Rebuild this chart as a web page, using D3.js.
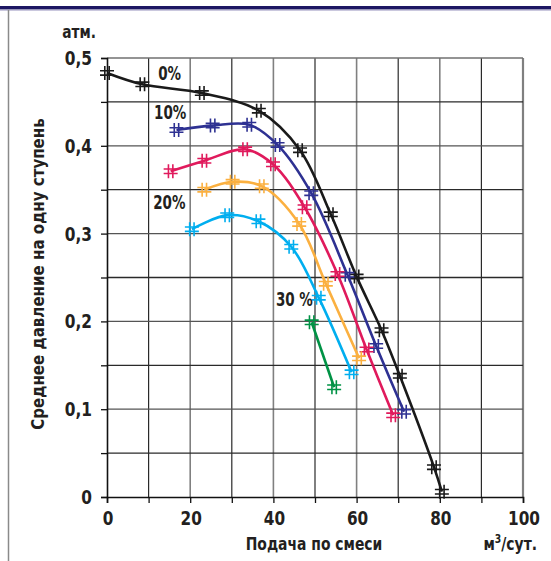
<!DOCTYPE html>
<html>
<head>
<meta charset="utf-8">
<script src="https://cdn.jsdelivr.net/npm/d3@7"></script>
<style>
  body { margin: 0; background: #fff; }
  text { font-family: "DejaVu Sans Condensed", "Liberation Sans", sans-serif; font-weight: bold; fill: #231f20; }
</style>
</head>
<body>
<div id="chart"></div>
<script>
// flow (m3/day) and stage pressure (atm)
const flow0 = [0, 8.5, 22.8, 36.5, 46.4, 53.8, 60.0, 66.0, 70.4, 78.6, 80.5];
const pres0 = [0.483, 0.470, 0.460, 0.440, 0.395, 0.322, 0.251, 0.190, 0.138, 0.034, 0.006];
const flow10 = [16.7, 25.4, 34.2, 41.0, 49.1, 57.8, 64.7, 71.4];
const pres10 = [0.418, 0.423, 0.424, 0.401, 0.346, 0.253, 0.172, 0.097];
const flow15 = [15.3, 23.4, 33.2, 39.9, 47.5, 55.4, 62.4, 68.8];
const pres15 = [0.371, 0.383, 0.396, 0.379, 0.330, 0.254, 0.168, 0.093];
const flow20 = [23.4, 30.2, 37.2, 46.2, 52.6, 60.6];
const pres20 = [0.350, 0.359, 0.354, 0.311, 0.243, 0.158];
const flow25 = [20.4, 28.9, 36.4, 44.3, 50.9, 58.8];
const pres25 = [0.305, 0.321, 0.314, 0.285, 0.227, 0.142];
const flow30 = [49.2, 54.6];
const pres30 = [0.199, 0.125];

const seriesColors = ["#1a1a1a", "#2e3192", "#e01a5c", "#fbb040", "#00aeef", "#009245"];
const curveLabels = ["0%", "10%", "20%", "30 %"];
const labelFlow = [12.3, 11.3, 11.1, 40.6];
const labelPres = [0.475, 0.4305, 0.328, 0.2175];

const xTicks = [0, 20, 40, 60, 80, 100];
const yTicks = [0, 0.1, 0.2, 0.3, 0.4, 0.5];

const width = 551, height = 561;
const margin = {left: 107, right: 28, top: 58, bottom: 64};

const svg = d3.select("#chart")
    .append("svg")
    .attr("width", width)
    .attr("height", height);

const x = d3.scaleLinear().domain([0, 100]).range([margin.left, width - margin.right]);
const y = d3.scaleLinear().domain([0, 0.5]).range([height - margin.bottom, margin.top]);

// narrow bold text: squeeze horizontally to get the condensed look
function label(px, py, str, size, anchor, sx, rotate) {
    return svg.append("text")
        .attr("transform", `translate(${px},${py})` + (rotate ? " rotate(-90)" : "") + ` scale(${sx},1)`)
        .attr("text-anchor", anchor)
        .attr("font-size", size)
        .text(str);
}

// frame: navy rule on top, grey rule on left
svg.append("rect").attr("x", 0).attr("y", 6).attr("width", width).attr("height", 3.5).attr("fill", "#1d1763");
svg.append("line").attr("x1", 0).attr("x2", width).attr("y1", 10.2).attr("y2", 10.2)
    .attr("stroke", "#b3b0cf").attr("stroke-width", 1);
svg.append("line").attr("x1", 8.5).attr("x2", 8.5).attr("y1", 10).attr("y2", height)
    .attr("stroke", "#8a8a8a").attr("stroke-width", 1.5);

// grid
const grid = svg.append("g");
d3.range(10, 101, 10).forEach(v => {
    const even = v % 20 === 0;
    grid.append("line")
        .attr("x1", x(v)).attr("x2", x(v))
        .attr("y1", y(0)).attr("y2", y(0.5))
        .attr("stroke", even ? "#808080" : "#2a2a2a")
        .attr("stroke-width", v === 100 ? 2.2 : (even ? 1.6 : 1.2));
});
d3.range(1, 11).forEach(i => {
    const v = i * 0.05;
    grid.append("line")
        .attr("x1", x(0)).attr("x2", x(100))
        .attr("y1", y(v)).attr("y2", y(v))
        .attr("stroke", i === 10 ? "#707070" : (i % 2 ? "#2a2a2a" : "#555"))
        .attr("stroke-width", i === 10 ? 1.6 : 1.3);
});

// axes
const xAxis = svg.append("g")
    .attr("transform", `translate(0,${y(0)})`)
    .call(d3.axisBottom(x).tickValues(d3.range(0, 101, 10)).tickSize(6).tickFormat(""));
const yAxis = svg.append("g")
    .attr("transform", `translate(${x(0)},0)`)
    .call(d3.axisLeft(y).tickValues(d3.range(0, 0.51, 0.05)).tickSize(6).tickFormat(""));
[xAxis, yAxis].forEach(g => {
    g.select(".domain").attr("stroke", "#111").attr("stroke-width", 1.6);
    g.selectAll(".tick line").attr("stroke", "#111").attr("stroke-width", 1.3);
});

xTicks.forEach(d => label(x(d) + 1, 525, d, 20, "middle", 0.85));
yTicks.forEach(d => label(92, y(d) + 7, d3.format(".1~f")(d).replace(".", ","), 19, "end", 0.9));

label(79, 38, "атм.", 18, "middle", 0.85);
label(314, 550, "Подача по смеси", 18, "middle", 0.86);
const unit = label(537, 550, "", 18, "end", 0.86);
unit.append("tspan").text("м");
unit.append("tspan").attr("font-size", 12).attr("dy", -7).text("3");
unit.append("tspan").attr("dy", 7).text("/сут.");
label(44, 274, "Среднее давление на одну ступень", 18, "middle", 0.93, true);

// curves
const series = [
    [flow0, pres0], [flow10, pres10], [flow15, pres15],
    [flow20, pres20], [flow25, pres25], [flow30, pres30]
].map(([f, p], i) => ({color: seriesColors[i], points: f.map((v, j) => [v, p[j]])}));

const line = d3.line()
    .x(d => x(d[0]))
    .y(d => y(d[1]))
    .curve(d3.curveCatmullRom.alpha(0.5));

const marker = (cx, cy) =>
    `M${cx - 2.2},${cy - 7}v14M${cx + 2.2},${cy - 7}v14M${cx - 7},${cy - 2.2}h14M${cx - 7},${cy + 2.2}h14`;

series.forEach(s => {
    svg.append("path")
        .attr("d", line(s.points))
        .attr("fill", "none")
        .attr("stroke", s.color)
        .attr("stroke-width", 2.6);
    svg.append("g").selectAll("path")
        .data(s.points)
        .join("path")
        .attr("d", d => marker(x(d[0]), y(d[1])))
        .attr("fill", "none")
        .attr("stroke", s.color)
        .attr("stroke-width", 1.6);
});

curveLabels.forEach((d, i) => label(x(labelFlow[i]), y(labelPres[i]), d, 20, "start", 0.75));
</script>
</body>
</html>
